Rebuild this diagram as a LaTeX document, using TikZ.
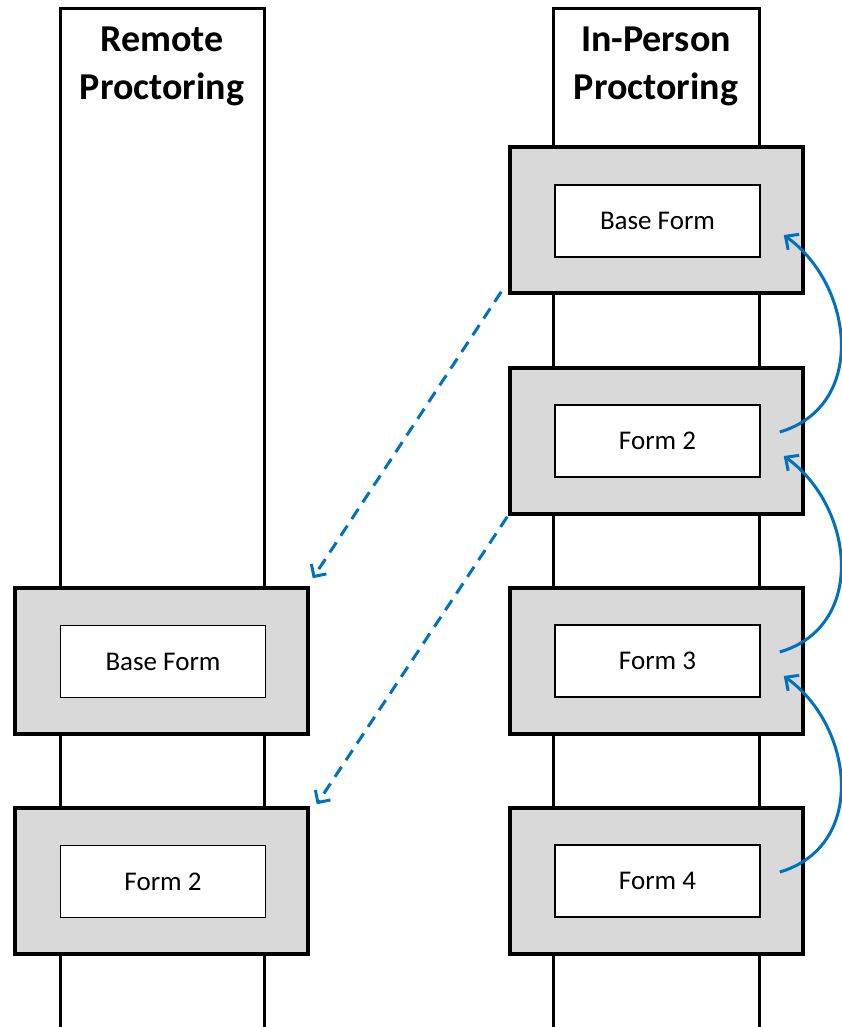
\documentclass[tikz,border=0pt]{standalone}
\usepackage{fontspec}
\setmainfont{Carlito}
\usetikzlibrary{arrows.meta}
\definecolor{boxgray}{HTML}{D9D9D9}
\definecolor{arrowblue}{HTML}{0070C0}
\begin{document}
\begin{tikzpicture}[x=1pt,y=-1pt,
  column/.style={line width=3pt},
  title/.style={align=center, inner sep=0pt, font=\bfseries\fontsize{38}{48}\selectfont},
  outerbox/.style={draw, line width=3.5pt, fill=boxgray, minimum width=293pt, minimum height=146pt, inner sep=0pt},
  innerbox/.style={draw, line width=1.5pt, fill=white, minimum width=205pt, minimum height=72pt, inner sep=0pt, font=\fontsize{27}{32}\selectfont},
  dasharrow/.style={draw=arrowblue, line width=3pt, dash pattern=on 12pt off 8pt, -{Straight Barb[length=9pt,width=18pt,line width=3pt]}},
  curvearrow/.style={draw=arrowblue, line width=3pt, -{Straight Barb[length=10pt,width=19pt,line width=3pt]}}
]
\useasboundingbox (0,0) rectangle (841,1027);
% columns
\draw[column] (60,1035) |- (264,9) -- (264,1035);
\draw[column] (553,1035) |- (759,9) -- (759,1035);
\node[title, anchor=north] (tl) at (162,27) {Remote\\Proctoring};
\node[title, anchor=north] (tr) at (656,27) {In-Person\\Proctoring};
% right column boxes
\node[outerbox] (rb1) at (656.5,220) {};
\node[innerbox] (ri1) at (657.5,221) {Base Form};
\node[outerbox] (rb2) at (656.5,441) {};
\node[innerbox] (ri2) at (657.5,441) {Form 2};
\node[outerbox] (rb3) at (656.5,661) {};
\node[innerbox] (ri3) at (657.5,661) {Form 3};
\node[outerbox] (rb4) at (656.5,881) {};
\node[innerbox] (ri4) at (657.5,881) {Form 4};
% left column boxes
\node[outerbox] (lb1) at (161.5,661) {};
\node[innerbox] (li1) at (163,661.5) {Base Form};
\node[outerbox] (lb2) at (161.5,881) {};
\node[innerbox] (li2) at (163,881.5) {Form 2};
% dashed arrows
\draw[dasharrow] ([shift={(-7,-3)}]rb1.south west) -- ([shift={(3,-8)}]lb1.north east);
\draw[dasharrow] ([shift={(-1,1)}]rb2.south west) -- ([shift={(7,-2)}]lb2.north east);
% curved arrows
\draw[curvearrow] ([shift={(-25,-9)}]rb2.east) .. controls +(88,-26) and +(70,50) .. ([shift={(-21,15)}]rb1.east);
\draw[curvearrow] ([shift={(-25,-9)}]rb3.east) .. controls +(88,-26) and +(70,50) .. ([shift={(-21,15)}]rb2.east);
\draw[curvearrow] ([shift={(-25,-9)}]rb4.east) .. controls +(88,-26) and +(70,50) .. ([shift={(-21,15)}]rb3.east);
\end{tikzpicture}
\end{document}
